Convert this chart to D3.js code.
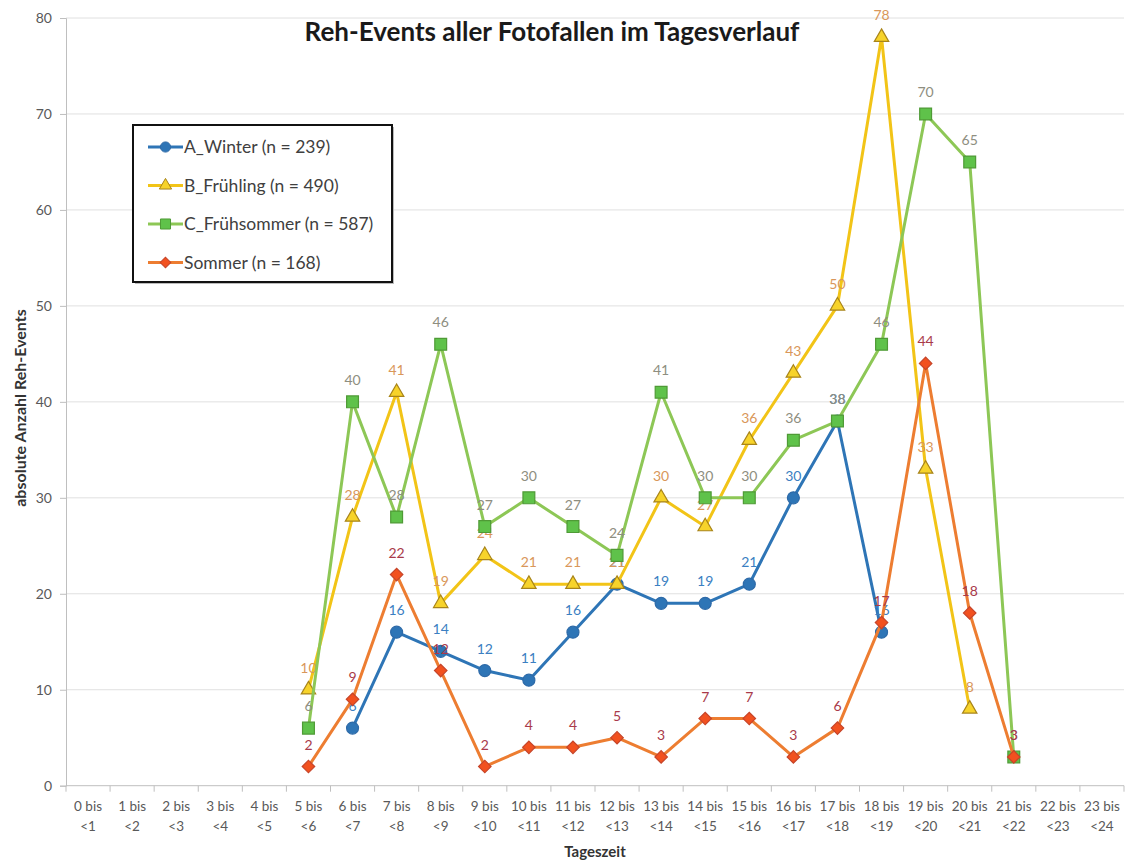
<!DOCTYPE html>
<html>
<head>
<meta charset="utf-8">
<script src="https://cdn.jsdelivr.net/npm/d3@7"></script>
<style>
  body { margin: 0; background: #fff; }
  svg { font-family: Lato, "Open Sans", sans-serif; }
</style>
</head>
<body>
<svg width="1129" height="865"></svg>
<script>
// Tageszeit categories (two-line tick labels)
var hoursFrom = ["0 bis", "1 bis", "2 bis", "3 bis", "4 bis", "5 bis", "6 bis", "7 bis", "8 bis", "9 bis", "10 bis", "11 bis",
    "12 bis", "13 bis", "14 bis", "15 bis", "16 bis", "17 bis", "18 bis", "19 bis", "20 bis", "21 bis", "22 bis", "23 bis"];
var hoursTo = ["<1", "<2", "<3", "<4", "<5", "<6", "<7", "<8", "<9", "<10", "<11", "<12",
    "<13", "<14", "<15", "<16", "<17", "<18", "<19", "<20", "<21", "<22", "<23", "<24"];

// counts per hour, null = no point
var winter = [null, null, null, null, null, null, 6, 16, 14, 12, 11, 16, 21, 19, 19, 21, 30, 38, 16, null, null, null, null, null];
var fruehling = [null, null, null, null, null, 10, 28, 41, 19, 24, 21, 21, 21, 30, 27, 36, 43, 50, 78, 33, 8, null, null, null];
var fruehsommer = [null, null, null, null, null, 6, 40, 28, 46, 27, 30, 27, 24, 41, 30, 30, 36, 38, 46, 70, 65, 3, null, null];
var sommer = [null, null, null, null, null, 2, 9, 22, 12, 2, 4, 4, 5, 3, 7, 7, 3, 6, 17, 44, 18, 3, null, null];

var seriesNames = ["A_Winter (n = 239)", "B_Frühling (n = 490)", "C_Frühsommer (n = 587)", "Sommer (n = 168)"];
var yTicks = [0, 10, 20, 30, 40, 50, 60, 70, 80];

var series = [
    { name: seriesNames[0], values: winter, line: "#2e75b6", fill: "#2e75b6", stroke: "#2e6aa8", label: "#3b7fc2", shape: "circle" },
    { name: seriesNames[1], values: fruehling, line: "#f2c417", fill: "#f7d32a", stroke: "#a8841a", label: "#d9975a", shape: "triangle" },
    { name: seriesNames[2], values: fruehsommer, line: "#8dc756", fill: "#5fc24a", stroke: "#4f9a36", label: "#8e8e80", shape: "square" },
    { name: seriesNames[3], values: sommer, line: "#ed7d31", fill: "#f2511f", stroke: "#c6452a", label: "#a93a4a", shape: "diamond" }
];

var svg = d3.select("svg");
var plotLeft = 66, plotRight = 1124, plotTop = 18, plotBottom = 785.7;

var x = d3.scaleBand().domain(d3.range(hoursFrom.length)).range([plotLeft, plotRight]);
var y = d3.scaleLinear().domain([0, 80]).range([plotBottom, plotTop]);
var cx = function (i) { return x(i) + x.bandwidth() / 2; };

// gridlines
svg.append("g").selectAll("line").data(yTicks.filter(function (d) { return d > 0; }))
    .enter().append("line")
    .attr("x1", plotLeft).attr("x2", plotRight)
    .attr("y1", function (d) { return y(d); }).attr("y2", function (d) { return y(d); })
    .attr("stroke", "#e0e0e0").attr("stroke-width", 1);

// y axis
var yAxis = svg.append("g").attr("transform", "translate(" + plotLeft + ",0)")
    .call(d3.axisLeft(y).tickValues(yTicks).tickSize(6).tickPadding(8));
yAxis.select(".domain").attr("stroke", "#bfbfbf");
yAxis.selectAll(".tick line").attr("stroke", "#bfbfbf");
yAxis.selectAll("text").attr("fill", "#595959").style("font-size", "14px").style("font-family", "Lato, sans-serif");

// x axis: ticks on the band edges
var xg = svg.append("g");
xg.append("line").attr("x1", plotLeft).attr("x2", plotRight).attr("y1", plotBottom).attr("y2", plotBottom).attr("stroke", "#bfbfbf");
xg.selectAll(".xt").data(d3.range(hoursFrom.length + 1)).enter().append("line")
    .attr("x1", function (i) { return plotLeft + i * x.bandwidth(); })
    .attr("x2", function (i) { return plotLeft + i * x.bandwidth(); })
    .attr("y1", plotBottom).attr("y2", plotBottom + 6)
    .attr("stroke", "#bfbfbf");
var xl = xg.selectAll(".xl").data(d3.range(hoursFrom.length)).enter().append("text")
    .attr("text-anchor", "middle").attr("fill", "#595959").style("font-size", "13.5px");
xl.append("tspan").attr("x", cx).attr("y", 811).text(function (i) { return hoursFrom[i]; });
xl.append("tspan").attr("x", cx).attr("y", 831).text(function (i) { return hoursTo[i]; });

// titles
svg.append("text").attr("x", 552).attr("y", 41).attr("text-anchor", "middle")
    .style("font-size", "26px").style("font-weight", "bold").attr("fill", "#1a1a1a")
    .text("Reh-Events aller Fotofallen im Tagesverlauf");
svg.append("text").attr("x", 595).attr("y", 857).attr("text-anchor", "middle")
    .style("font-size", "15px").style("font-weight", "bold").attr("fill", "#333")
    .text("Tageszeit");
svg.append("text").attr("transform", "translate(26,408) rotate(-90)").attr("text-anchor", "middle")
    .style("font-size", "16px").style("font-weight", "bold").attr("fill", "#333")
    .text("absolute Anzahl Reh-Events");

function drawMarker(g, shape, s) {
    if (shape === "circle") return g.append("circle").attr("r", 6 * s);
    if (shape === "diamond") {
        // excel diamond = square turned 45 degrees
        return g.append("path").attr("transform", "rotate(45)")
            .attr("d", d3.symbol().type(d3.symbolSquare).size(78 * s * s)());
    }
    var sym = { triangle: d3.symbolTriangle, square: d3.symbolSquare }[shape];
    var size = { triangle: 90, square: 140 }[shape] * s * s;
    return g.append("path").attr("d", d3.symbol().type(sym).size(size)());
}

var line = d3.line()
    .defined(function (d) { return d != null; })
    .x(function (d, i) { return cx(i); })
    .y(function (d) { return y(d); });

series.forEach(function (s) {
    var g = svg.append("g");
    g.append("path").datum(s.values).attr("d", line)
        .attr("fill", "none").attr("stroke", s.line).attr("stroke-width", 3).attr("stroke-linejoin", "round");
    s.values.forEach(function (v, i) {
        if (v == null) return;
        var mg = g.append("g").attr("transform", "translate(" + cx(i) + "," + y(v) + ")");
        drawMarker(mg, s.shape, 1).attr("fill", s.fill).attr("stroke", s.stroke).attr("stroke-width", 1.2);
    });
    s.values.forEach(function (v, i) {
        if (v == null) return;
        g.append("text").attr("x", cx(i)).attr("y", y(v) - 17).attr("text-anchor", "middle")
            .attr("fill", s.label).style("font-size", "14px").text(v);
    });
});

// legend
var lg = svg.append("g");
lg.append("rect").attr("x", 135).attr("y", 127).attr("width", 259).attr("height", 157).attr("fill", "#bbb");
lg.append("rect").attr("x", 133).attr("y", 125).attr("width", 259).attr("height", 157)
    .attr("fill", "#fff").attr("stroke", "#111").attr("stroke-width", 2);
series.forEach(function (s, k) {
    var ly = 147 + k * 38.5;
    lg.append("line").attr("x1", 148).attr("x2", 183).attr("y1", ly).attr("y2", ly)
        .attr("stroke", s.line).attr("stroke-width", 3);
    var mg = lg.append("g").attr("transform", "translate(165.5," + ly + ")");
    drawMarker(mg, s.shape, 0.85).attr("fill", s.fill).attr("stroke", s.stroke).attr("stroke-width", 1);
    lg.append("text").attr("x", 184).attr("y", ly + 6).attr("fill", "#404040")
        .style("font-size", "17.5px").text(s.name);
});
</script>
</body>
</html>
